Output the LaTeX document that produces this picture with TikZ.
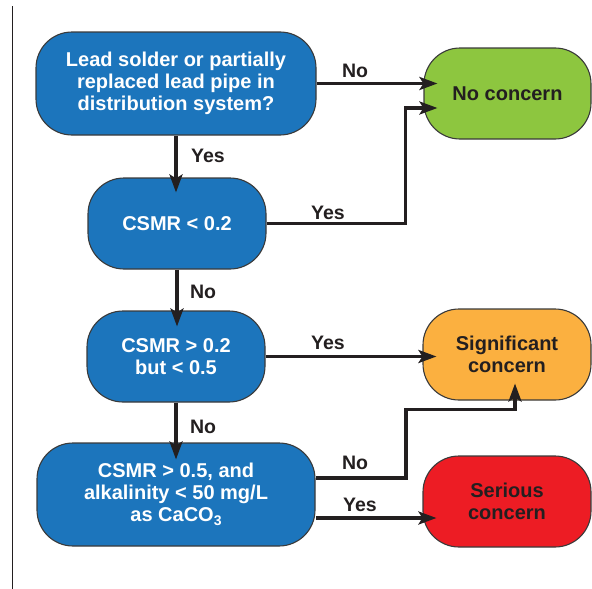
\documentclass[tikz,border=0pt]{standalone}
\usepackage{fontspec}
\setmainfont{Liberation Sans}
\usetikzlibrary{arrows.meta,calc}

\definecolor{boxblue}{HTML}{1C75BC}
\definecolor{okgreen}{HTML}{8DC63F}
\definecolor{warnorange}{HTML}{FBB040}
\definecolor{alertred}{HTML}{ED1C24}
\definecolor{edgegray}{HTML}{3A3A3A}
\definecolor{inkdark}{HTML}{231F20}

\tikzset{
  flowbox/.style={draw=edgegray, line width=1.1pt, rounded corners=36pt,
    align=center, inner sep=0pt,
    font=\fontsize{20}{22}\selectfont\bfseries},
  question/.style={flowbox, fill=boxblue, text=white},
  outcome/.style={flowbox, text=inkdark},
  flowline/.style={line width=3.2pt, draw=inkdark, line join=miter,
    -{Stealth[length=18pt,width=13pt,inset=4pt]}},
  branch/.style={font=\fontsize{19.5}{21}\selectfont\bfseries,
    text=inkdark, inner sep=0pt},
}

\newcommand{\subthree}{\raisebox{-0.35ex}{\fontsize{14}{14}\selectfont 3}}

\begin{document}
\begin{tikzpicture}[x=1pt, y=-1pt]
  \useasboundingbox (0,0) rectangle (592,589);

  % page rule on the left
  \draw[line width=1pt, draw=inkdark] (12,6) -- (12,589);

  % decision boxes
  \node[question, minimum width=280pt, minimum height=103pt] (q1) at (176,83.5)
    {Lead solder or partially\\replaced lead pipe in\\distribution system?};
  \node[question, minimum width=178pt, minimum height=91pt] (q2) at (177,223.5)
    {CSMR < 0.2};
  \node[question, minimum width=178pt, minimum height=91pt] (q3) at (176,356.5)
    {CSMR > 0.2\\but < 0.5};
  \node[question, minimum width=278pt, minimum height=103pt] (q4) at (176,494.5)
    {CSMR > 0.5, and\\alkalinity < 50 mg/L\\as CaCO\subthree};

  % outcome boxes
  \node[outcome, fill=okgreen, minimum width=167pt, minimum height=91pt] (nc) at (507.5,93.5)
    {No concern};
  \node[outcome, fill=warnorange, minimum width=168pt, minimum height=91pt] (sig) at (507,354.5)
    {Significant\\concern};
  \node[outcome, fill=alertred, minimum width=168pt, minimum height=91pt] (ser) at (507,501.5)
    {Serious\\concern};

  % connectors
  \draw[flowline] (q1.east) -- ($(q1.east -| nc.west)+(14,0)$);
  \draw[flowline] (q1.south) -- ($(q1.south |- q2.north)+(0,15)$);
  \draw[flowline] (q2.east) -| ($(nc.west)+(-18,14.5)$) -- ($(nc.west)+(14,14.5)$);
  \draw[flowline] (q2.south) -- ($(q2.south |- q3.north)+(0,16)$);
  \draw[flowline] (q3.east) -- ($(q3.east -| sig.west)+(14,0)$);
  \draw[flowline] (q3.south) -- ($(q3.south |- q4.north)+(0,17)$);
  \draw[flowline] ($(q4.east)+(0,-16.5)$) -| ($(sig.south)+(-101,9)$)
    -- ($(sig.south)+(8,9)$) -- ($(sig.south)+(8,-17)$);
  \draw[flowline] ($(q4.east)+(0,23.5)$) coordinate (ysrc)
    -- ($(ysrc -| ser.west)+(14,0)$);

  % branch labels
  \node[branch] (l1) at (355,71) {No};
  \node[branch] (l2) at (208,156) {Yes};
  \node[branch] (l3) at (328,213) {Yes};
  \node[branch] (l4) at (203,292) {No};
  \node[branch] (l5) at (328,343) {Yes};
  \node[branch] (l6) at (203,427) {No};
  \node[branch] (l7) at (355,463) {No};
  \node[branch] (l8) at (360,505) {Yes};
\end{tikzpicture}
\end{document}
